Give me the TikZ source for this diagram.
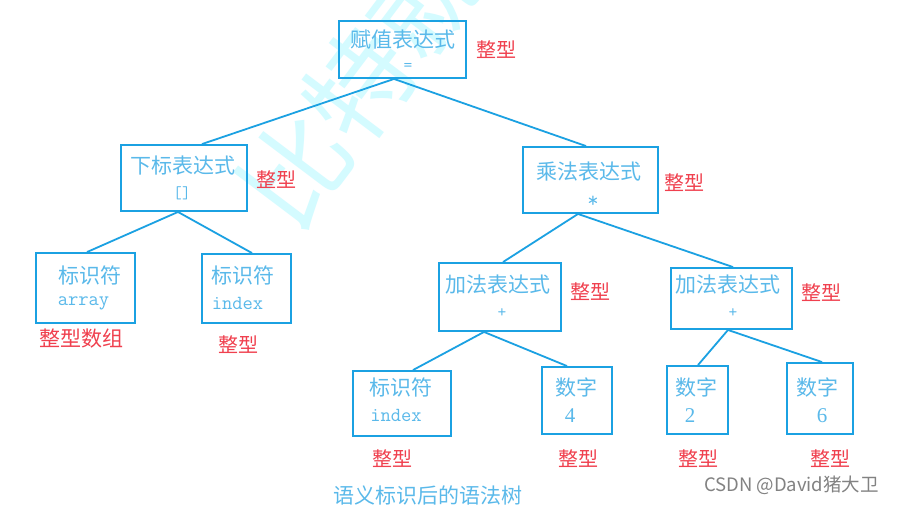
\documentclass[tikz,border=0pt]{standalone}
\usepackage{fontspec}
\setmainfont{Liberation Serif}
\newfontfamily\cjk{Noto Sans CJK SC}
\newfontfamily\sansf{Liberation Sans}
\usetikzlibrary{calc}
\definecolor{boxblue}{RGB}{27,161,226}
\definecolor{txtblue}{RGB}{90,185,234}
\definecolor{lblred}{RGB}{240,64,78}
\definecolor{wmcyan}{RGB}{212,251,255}
\definecolor{csdngray}{RGB}{130,130,130}
\tikzset{
  treebox/.style={draw=boxblue, line width=1.9pt, inner sep=0pt, rectangle},
  edge/.style={draw=boxblue, line width=1.8pt},
  cjktxt/.style={text=txtblue, font=\cjk\fontsize{21}{24}\selectfont, inner sep=0pt, anchor=center},
  optxt/.style={text=txtblue, font=\ttfamily\fontsize{17}{20}\selectfont, inner sep=0pt, anchor=center},
  monotxt/.style={text=txtblue, font=\ttfamily\fontsize{20}{22}\selectfont, inner sep=0pt, anchor=center},
  digtxt/.style={text=txtblue, font=\fontsize{21}{24}\selectfont, inner sep=0pt, anchor=center},
  typelbl/.style={text=lblred, font=\cjk\fontsize{20}{24}\selectfont, inner sep=0pt, anchor=center},
}
\begin{document}
\begin{tikzpicture}[x=1pt,y=-1pt]
\useasboundingbox (0,0) rectangle (897,504);
\fill[white] (0,0) rectangle (897,504);
% watermark
\node[text=wmcyan, font=\cjk\fontsize{106}{110}\selectfont, rotate=53, anchor=west, inner sep=0pt] (wm) at (263,212) {比特就业课};
% boxes
\node[treebox, minimum width=127pt, minimum height=57pt] (root) at (402.5,49.5) {};
\node[treebox, minimum width=126pt, minimum height=66pt] (sub) at (184,178) {};
\node[treebox, minimum width=135pt, minimum height=66pt] (mul) at (590.5,180) {};
\node[treebox, minimum width=99pt, minimum height=70pt] (arr) at (85.5,288) {};
\node[treebox, minimum width=89pt, minimum height=69pt] (idxa) at (246.5,288.5) {};
\node[treebox, minimum width=122pt, minimum height=68pt] (addl) at (500,297) {};
\node[treebox, minimum width=121pt, minimum height=61pt] (addr) at (731.5,298.5) {};
\node[treebox, minimum width=98pt, minimum height=65pt] (idxb) at (402,403.5) {};
\node[treebox, minimum width=70pt, minimum height=67pt] (nfour) at (577,400.5) {};
\node[treebox, minimum width=61pt, minimum height=68pt] (ntwo) at (697.5,400) {};
\node[treebox, minimum width=66pt, minimum height=71pt] (nsix) at (820,398.5) {};
% edges
\draw[edge] ([xshift=-8.5pt]root.south) -- ([xshift=18pt]sub.north);
\draw[edge] ([xshift=-8.5pt]root.south) -- ([xshift=-4.5pt]mul.north);
\draw[edge] ([xshift=-6pt]sub.south) -- ([xshift=1.5pt]arr.north);
\draw[edge] ([xshift=-6pt]sub.south) -- ([xshift=5.5pt]idxa.north);
\draw[edge] ([xshift=-12.5pt]mul.south) -- ([xshift=3pt]addl.north);
\draw[edge] ([xshift=-12.5pt]mul.south) -- ([xshift=1.5pt]addr.north);
\draw[edge] ([xshift=-16pt]addl.south) -- ([xshift=11pt]idxb.north);
\draw[edge] ([xshift=-16pt]addl.south) -- ([xshift=-10pt]nfour.north);
\draw[edge] ([xshift=-3.5pt]addr.south) -- ([xshift=0.5pt]ntwo.north);
\draw[edge] ([xshift=-3.5pt]addr.south) -- ([xshift=2pt]nsix.north);
% texts in boxes
\node[cjktxt] (troot) at (402.5,40) {赋值表达式};
\node[optxt] (oroot) at (408,67) {=};
\node[cjktxt] (tsub) at (182.5,166) {下标表达式};
\node[optxt] (osub) at (182,193) {[]};
\node[cjktxt] (tmul) at (588.5,172) {乘法表达式};
\node[optxt, font=\ttfamily\fontsize{22}{24}\selectfont] (omul) at (593,202) {*};
\node[cjktxt] (tarr) at (90,275) {标识符};
\node[monotxt] (varr) at (83.5,303) {array};
\node[cjktxt] (tidxa) at (243,275) {标识符};
\node[monotxt] (vidxa) at (237.5,303) {index};
\node[cjktxt] (taddl) at (497.5,285) {加法表达式};
\node[optxt] (oaddl) at (502,313) {+};
\node[cjktxt] (taddr) at (727.5,285) {加法表达式};
\node[optxt] (oaddr) at (733,313) {+};
\node[cjktxt] (tidxb) at (400.5,387) {标识符};
\node[monotxt] (vidxb) at (396,415) {index};
\node[cjktxt] (tfour) at (576,387) {数字};
\node[digtxt] (vfour) at (570,416) {4};
\node[cjktxt] (ttwo) at (696.5,387) {数字};
\node[digtxt] (vtwo) at (690,416) {2};
\node[cjktxt] (tsix) at (817.5,387) {数字};
\node[digtxt] (vsix) at (822,416) {6};
% type labels
\node[typelbl] (lroot) at (496,50) {整型};
\node[typelbl] (lsub) at (276,180) {整型};
\node[typelbl] (lmul) at (684,183) {整型};
\node[typelbl, font=\cjk\fontsize{21}{24}\selectfont] (larr) at (81,339) {整型数组};
\node[typelbl] (lidxa) at (238,345) {整型};
\node[typelbl] (laddl) at (590,292) {整型};
\node[typelbl] (laddr) at (821,293) {整型};
\node[typelbl] (lidxb) at (392,459) {整型};
\node[typelbl] (lfour) at (578,459) {整型};
\node[typelbl] (ltwo) at (698,459) {整型};
\node[typelbl] (lsix) at (830,459) {整型};
% caption
\node[cjktxt] (cap) at (427.5,495) {语义标识后的语法树};
\node[text=csdngray, font=\cjk\fontsize{18.5}{20}\selectfont, inner sep=0pt] (csdn) at (791.5,485) {CSDN @David猪大卫};
\end{tikzpicture}
\end{document}
